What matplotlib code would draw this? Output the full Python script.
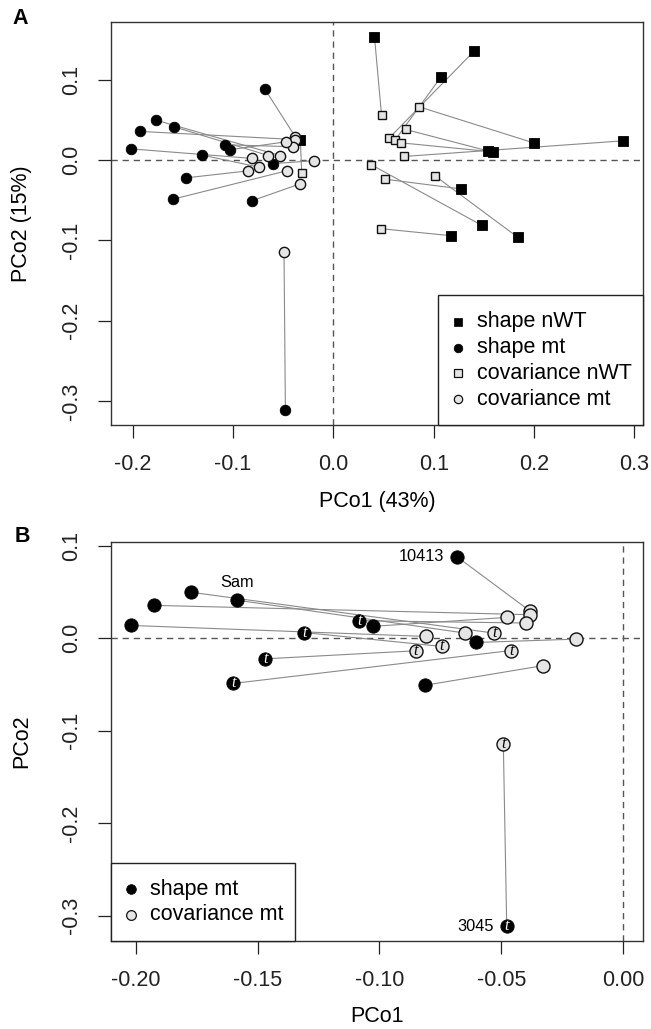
import matplotlib
matplotlib.use("Agg")
import matplotlib.pyplot as plt
from matplotlib.lines import Line2D
from matplotlib.patches import Rectangle
import numpy as np

plt.rcParams['font.family'] = ['Liberation Sans', 'DejaVu Sans']
plt.rcParams['axes.unicode_minus'] = False

# ---------------- data: panel A (nWT pairs) ----------------
shape_nwt_x = [0.041, 0.140, 0.1075, 0.200, 0.289, 0.154, 0.1588, 0.1276, 0.148, 0.1175, 0.184, -0.0329]
shape_nwt_y = [0.153, 0.135, 0.1035, 0.021, 0.0237, 0.0112, 0.0100, -0.0362, -0.0815, -0.0944, -0.0965, 0.0245]
cov_nwt_x = [0.048, 0.0555, 0.0614, 0.0853, 0.070, 0.0721, 0.0672, 0.0516, 0.0374, 0.0475, 0.1009, -0.0315]
cov_nwt_y = [0.056, 0.027, 0.0245, 0.0661, 0.0042, 0.0378, 0.0212, -0.0241, -0.0058, -0.0857, -0.0195, -0.0166]

# ---------------- data: mt pairs (panels A and B) ----------------
shape_mt_x = [-0.0682, -0.1771, -0.1584, -0.1926, -0.2020, -0.1083, -0.1027, -0.1308, -0.0602, -0.1469, -0.1600, -0.0814, -0.0478]
shape_mt_y = [0.0879, 0.0495, 0.0410, 0.0354, 0.0137, 0.0188, 0.0127, 0.0060, -0.0047, -0.0224, -0.0490, -0.0510, -0.3114]
cov_mt_x = [-0.0381, -0.0530, -0.0648, -0.0383, -0.0809, -0.0398, -0.0477, -0.0744, -0.0194, -0.0851, -0.0459, -0.0328, -0.0492]
cov_mt_y = [0.0290, 0.0054, 0.0054, 0.0253, 0.0018, 0.0163, 0.0224, -0.0090, -0.0011, -0.0137, -0.0134, -0.0297, -0.1143]
shape_mt_t = [0, 0, 0, 0, 0, 1, 0, 1, 0, 1, 1, 0, 1]
cov_mt_t = [0, 1, 0, 0, 0, 0, 0, 1, 0, 1, 1, 0, 1]
mt_names = ["10413", "", "Sam", "", "", "", "", "", "", "", "", "", "3045"]

# ---------------- tick labels ----------------
a_xticks = [-0.2, -0.1, 0.0, 0.1, 0.2, 0.3]
a_xticklabels = ["-0.2", "-0.1", "0.0", "0.1", "0.2", "0.3"]
a_yticks = [-0.3, -0.2, -0.1, 0.0, 0.1]
a_yticklabels = ["-0.3", "-0.2", "-0.1", "0.0", "0.1"]
b_xticks = [-0.20, -0.15, -0.10, -0.05, 0.00]
b_xticklabels = ["-0.20", "-0.15", "-0.10", "-0.05", "0.00"]
b_yticks = [-0.3, -0.2, -0.1, 0.0, 0.1]
b_yticklabels = ["-0.3", "-0.2", "-0.1", "0.0", "0.1"]

legend_a = ["shape nWT", "shape mt", "covariance nWT", "covariance mt"]
legend_b = ["shape mt", "covariance mt"]

# ---------------- style ----------------
W, H = 651, 1029
FS = 15.5
GREYFILL = '#e5e5e5'
LINEC = '#8a8a8a'
DASHC = '#555555'

fig = plt.figure(figsize=(W / 100, H / 100), dpi=100)


def fx(px):
    return px / W


def fy(py):
    return 1 - py / H


axA = fig.add_axes([fx(111), fy(425), 532 / W, 403 / H])
axB = fig.add_axes([fx(111), fy(941), 532 / W, 399 / H])


def r_lim(vals):
    lo, hi = min(vals), max(vals)
    d = (hi - lo) * 0.04
    return lo - d, hi + d


def style_axes(ax, xt, xtl, yt, ytl):
    ax.set_xticks(xt)
    ax.set_xticklabels(xtl)
    ax.set_yticks(yt)
    ax.set_yticklabels(ytl)
    ax.tick_params(axis='both', direction='out', length=9.3, width=0.9,
                   labelsize=FS, pad=11.5, colors='#222222')
    for lab in ax.get_yticklabels():
        lab.set_rotation(90)
        lab.set_va('center')
        lab.set_ha('right')
    for s in ax.spines.values():
        s.set_linewidth(1.0)
        s.set_color('#333333')
    ax.axhline(0, color=DASHC, lw=1.0, ls=(0, (4.5, 3.5)), zorder=1)
    ax.axvline(0, color=DASHC, lw=1.0, ls=(0, (4.5, 3.5)), zorder=1)


# ---------------- Panel A ----------------
for sx, sy, cx, cy in zip(shape_nwt_x, shape_nwt_y, cov_nwt_x, cov_nwt_y):
    axA.plot([sx, cx], [sy, cy], color=LINEC, lw=0.8, zorder=2)
for sx, sy, cx, cy in zip(shape_mt_x, shape_mt_y, cov_mt_x, cov_mt_y):
    axA.plot([sx, cx], [sy, cy], color=LINEC, lw=0.8, zorder=2)

axA.plot(shape_nwt_x, shape_nwt_y, ls='none', marker='s', ms=6.6, mfc='black', mec='black', mew=0.6, zorder=3)
axA.plot(shape_mt_x, shape_mt_y, ls='none', marker='o', ms=7.6, mfc='black', mec='black', mew=0.6, zorder=3)
axA.plot(cov_nwt_x, cov_nwt_y, ls='none', marker='s', ms=6.3, mfc=GREYFILL, mec='#111111', mew=1.0, zorder=4)
axA.plot(cov_mt_x, cov_mt_y, ls='none', marker='o', ms=7.4, mfc=GREYFILL, mec='#111111', mew=1.0, zorder=4)

axA.set_xlim(*r_lim(shape_nwt_x + cov_nwt_x + shape_mt_x + cov_mt_x))
axA.set_ylim(*r_lim(shape_nwt_y + cov_nwt_y + shape_mt_y + cov_mt_y))
style_axes(axA, a_xticks, a_xticklabels, a_yticks, a_yticklabels)
axA.set_xlabel("PCo1 (43%)", fontsize=FS)
axA.xaxis.set_label_coords(0.5, -77 / 403)
axA.xaxis.label.set_va('center')
axA.set_ylabel("PCo2 (15%)", fontsize=FS)
axA.yaxis.set_label_coords((22 - 111) / 532, 0.5)
axA.yaxis.label.set_va('center')

# legend A (bottom-right, flush with the axes corner)
fig.add_artist(Rectangle((fx(438), fy(425)), fx(643) - fx(438), fy(295) - fy(425),
                         transform=fig.transFigure, facecolor='white', edgecolor='#222222',
                         lw=1.0, zorder=10))
leg_a_style = [dict(marker='s', ms=5.6, mfc='black', mec='black', mew=0.5),
               dict(marker='o', ms=6.2, mfc='black', mec='black', mew=0.5),
               dict(marker='s', ms=5.4, mfc=GREYFILL, mec='#111111', mew=0.9),
               dict(marker='o', ms=6.0, mfc=GREYFILL, mec='#111111', mew=0.9)]
for i, (lab, st) in enumerate(zip(legend_a, leg_a_style)):
    yy = 322 + i * 25.7
    fig.add_artist(Line2D([fx(458)], [fy(yy)], transform=fig.transFigure, ls='none', zorder=11, **st))
    fig.text(fx(477), fy(yy), lab, fontsize=FS, va='center', ha='left', zorder=11)

# ---------------- Panel B ----------------
for sx, sy, cx, cy in zip(shape_mt_x, shape_mt_y, cov_mt_x, cov_mt_y):
    axB.plot([sx, cx], [sy, cy], color=LINEC, lw=0.8, zorder=2)
axB.plot(shape_mt_x, shape_mt_y, ls='none', marker='o', ms=9.6, mfc='black', mec='black', mew=0.6, zorder=3)
axB.plot(cov_mt_x, cov_mt_y, ls='none', marker='o', ms=9.4, mfc=GREYFILL, mec='#111111', mew=1.0, zorder=4)
for x, y, t in zip(shape_mt_x, shape_mt_y, shape_mt_t):
    if t:
        axB.text(x, y, "t", color='white', fontsize=11.5, style='italic',
                 family=['Liberation Serif', 'DejaVu Serif'], ha='center', va='center', zorder=5)
for x, y, t in zip(cov_mt_x, cov_mt_y, cov_mt_t):
    if t:
        axB.text(x, y, "t", color='black', fontsize=11.5, style='italic',
                 family=['Liberation Serif', 'DejaVu Serif'], ha='center', va='center', zorder=5)
for x, y, name in zip(shape_mt_x, shape_mt_y, mt_names):
    if name == "Sam":
        axB.annotate(name, (x, y), xytext=(0, 12.5), textcoords='offset points',
                     ha='center', va='center', fontsize=11.8)
    elif name:
        axB.annotate(name, (x, y), xytext=(-9.5, 0), textcoords='offset points',
                     ha='right', va='center', fontsize=11.8)

axB.set_xlim(*r_lim(shape_mt_x + cov_mt_x + [0.0]))
axB.set_ylim(*r_lim(shape_mt_y + cov_mt_y))
style_axes(axB, b_xticks, b_xticklabels, b_yticks, b_yticklabels)
axB.set_xlabel("PCo1", fontsize=FS)
axB.xaxis.set_label_coords(0.5, -76 / 399)
axB.xaxis.label.set_va('center')
axB.set_ylabel("PCo2", fontsize=FS)
axB.yaxis.set_label_coords((22 - 111) / 532, 0.5)
axB.yaxis.label.set_va('center')

# legend B (bottom-left)
fig.add_artist(Rectangle((fx(111), fy(941)), fx(295) - fx(111), fy(863) - fy(941),
                         transform=fig.transFigure, facecolor='white', edgecolor='#222222',
                         lw=1.0, zorder=10))
leg_b_style = [dict(marker='o', ms=7.0, mfc='black', mec='black', mew=0.5),
               dict(marker='o', ms=7.0, mfc=GREYFILL, mec='#111111', mew=0.9)]
for i, (lab, st) in enumerate(zip(legend_b, leg_b_style)):
    yy = 889 + i * 25.7
    fig.add_artist(Line2D([fx(131)], [fy(yy)], transform=fig.transFigure, ls='none', zorder=11, **st))
    fig.text(fx(150), fy(yy), lab, fontsize=FS, va='center', ha='left', zorder=11)

# panel letters
fig.text(fx(20), fy(18), "A", fontsize=FS, fontweight='bold', ha='center', va='center')
fig.text(fx(22), fy(537), "B", fontsize=FS, fontweight='bold', ha='center', va='center')

fig.savefig("out.png", dpi=100)
